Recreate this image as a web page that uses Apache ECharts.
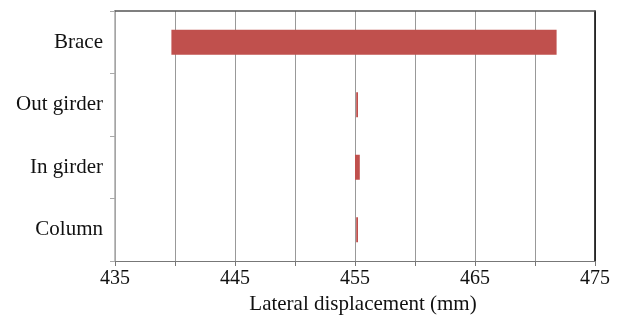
<!DOCTYPE html>
<html>
<head>
<meta charset="utf-8">
<script src="https://cdn.jsdelivr.net/npm/echarts@6/dist/echarts.min.js"></script>
<style>html,body{margin:0;padding:0;background:#fff}#c{width:620px;height:320px}</style>
</head>
<body>
<div id="c"></div>
<script>
const categories = ['Brace', 'Out girder', 'In girder', 'Column'];
const startValues = [439.7, 455.1, 455.0, 455.1];
const endValues = [471.8, 455.25, 455.4, 455.25];
const tickLabels = [435, 445, 455, 465, 475];
const axisTitle = 'Lateral displacement (mm)';

const font = 'Liberation Serif';
const chart = echarts.init(document.getElementById('c'), null, {renderer: 'canvas'});
const spans = endValues.map((v, i) => +(v - startValues[i]).toFixed(3));

chart.setOption({
  animation: false,
  grid: {left: 115, right: 25, top: 11, bottom: 59, containLabel: false},
  xAxis: [{
    type: 'value', min: 435, max: 475, interval: 5,
    name: axisTitle, nameLocation: 'middle', nameGap: 27,
    nameTextStyle: {fontFamily: font, fontSize: 21, color: '#111', padding: [0, 0, 0, 16]},
    axisLine: {show: true, lineStyle: {color: '#777', width: 1}},
    axisTick: {show: true, length: 5, lineStyle: {color: '#777'}},
    splitLine: {show: true, lineStyle: {color: '#999', width: 1}},
    axisLabel: {
      fontFamily: font, fontSize: 20, color: '#111', margin: 8,
      showMinLabel: true, showMaxLabel: true,
      formatter: v => tickLabels.indexOf(v) >= 0 ? String(v) : ''
    }
  }, {
    type: 'value', position: 'top', min: 435, max: 475,
    axisLine: {show: true, onZero: false, lineStyle: {color: '#555', width: 1.5}},
    axisTick: {show: false}, axisLabel: {show: false}, splitLine: {show: false}
  }],
  yAxis: [{
    type: 'category', data: categories, inverse: true,
    axisLine: {show: true, lineStyle: {color: '#aaa', width: 1.5}},
    axisTick: {show: true, length: 5, lineStyle: {color: '#aaa'}},
    axisLabel: {fontFamily: font, fontSize: 21, color: '#111', margin: 12},
    splitLine: {show: false}
  }, {
    type: 'category', data: categories, inverse: true, position: 'right',
    axisLine: {show: true, onZero: false, lineStyle: {color: '#000', width: 1.5}},
    axisTick: {show: false}, axisLabel: {show: false}, splitLine: {show: false}
  }],
  series: [{
    type: 'bar', stack: 'r', data: startValues, barWidth: '40%',
    itemStyle: {color: 'transparent'}, silent: true
  }, {
    type: 'bar', stack: 'r', data: spans, barWidth: '40%',
    itemStyle: {color: '#C0504D'}
  }]
});
</script>
</body>
</html>
